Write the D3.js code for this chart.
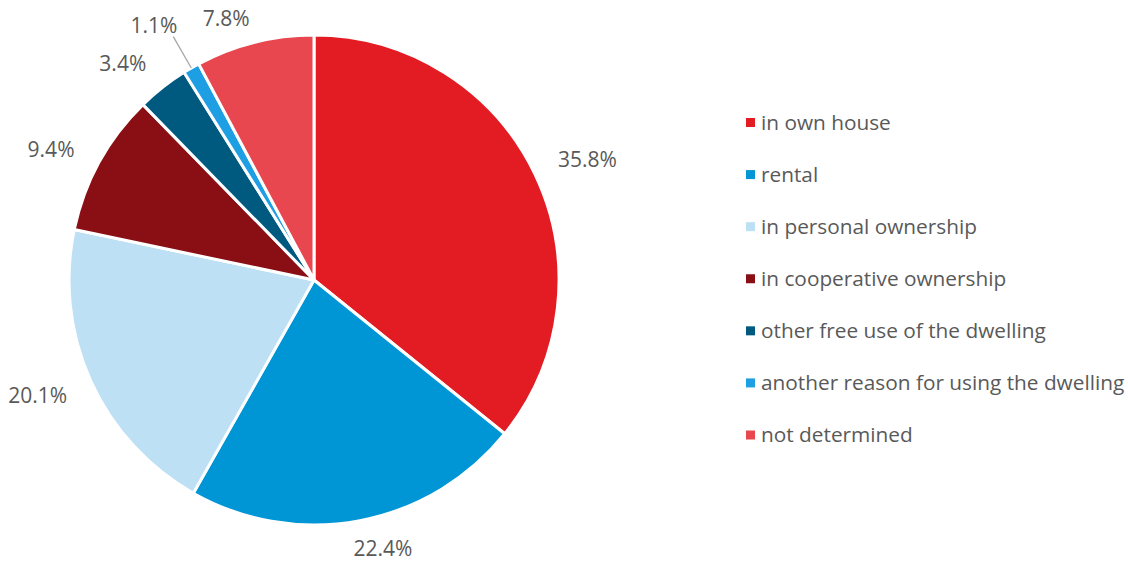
<!DOCTYPE html>
<html>
<head>
<meta charset="utf-8">
<script src="https://cdn.jsdelivr.net/npm/d3@7"></script>
<style>
  html, body { margin: 0; padding: 0; background: #fff; }
  svg { display: block; }
  text { font-family: "Open Sans", "Noto Sans", sans-serif; fill: #595959; }
</style>
</head>
<body>
<svg id="chart" width="1128" height="562"></svg>
<script>
// Dwelling use categories and their shares (%)
const categories = [
  "in own house",
  "rental",
  "in personal ownership",
  "in cooperative ownership",
  "other free use of the dwelling",
  "another reason for using the dwelling",
  "not determined"
];
const shares = [35.8, 22.4, 20.1, 9.4, 3.4, 1.1, 7.8];
const colors = ["#E31B23", "#0096D6", "#BDE0F5", "#8A0F15", "#005A80", "#1E9FE3", "#E84750"];

// Label layout tweaks (degrees of rotation, extra radial gap in px) per slice
const labelAngleShift = [0.3, -2.7, 0.3, -1.3, -2, -1, -3.7];
const labelExtraGap = [0, -7, 0, 0, 0, 14, -8];

const svg = d3.select("#chart");
const cx = 314, cy = 280, radius = 245;

const pie = d3.pie().sort(null).value(d => d.value);
const arc = d3.arc().innerRadius(0).outerRadius(radius);

const data = categories.map((c, i) => ({ name: c, value: shares[i], color: colors[i], i }));
const arcs = pie(data);

const g = svg.append("g").attr("transform", `translate(${cx},${cy})`);

g.selectAll("path.slice")
  .data(arcs)
  .join("path")
  .attr("class", "slice")
  .attr("d", arc)
  .attr("fill", d => d.data.color)
  .attr("stroke", "#fff")
  .attr("stroke-width", 3)
  .attr("stroke-linejoin", "round");

// Outside-end labels: the label box sits just beyond the rim along the slice's mid-angle
const gap = 28;
const labelSize = 21;
arcs.forEach(d => {
  const i = d.data.i;
  const mid = (d.startAngle + d.endAngle) / 2;
  const a = mid + labelAngleShift[i] * Math.PI / 180;
  const rr = radius + gap + labelExtraGap[i];
  const px = rr * Math.sin(a), py = -rr * Math.cos(a);
  const t = g.append("text")
    .attr("font-size", labelSize)
    .attr("text-anchor", "middle")
    .text(d3.format(".1f")(d.data.value) + "%");
  const w = t.node().getComputedTextLength();
  const h = 20;
  const bx = px + (w / 2) * Math.sin(a);
  const by = py - (h / 2) * Math.cos(a);
  t.attr("x", bx).attr("y", by + 7.5);

  if (labelExtraGap[i] > 0) {
    // leader line from the label to the slice rim
    const ex = radius * Math.sin(mid), ey = -radius * Math.cos(mid);
    g.append("line")
      .attr("x1", bx + w / 2 - 4).attr("y1", by + 11)
      .attr("x2", ex).attr("y2", ey)
      .attr("stroke", "#A6A6A6")
      .attr("stroke-width", 1.3);
  }
});

// Legend
const legendY = d3.scalePoint().domain(categories).range([122.5, 435]);
const legend = svg.append("g");
const items = legend.selectAll("g.item")
  .data(data)
  .join("g")
  .attr("class", "item")
  .attr("transform", d => `translate(746,${legendY(d.name)})`);
items.append("rect")
  .attr("x", 0).attr("y", -4.5)
  .attr("width", 9).attr("height", 9)
  .attr("fill", d => d.color);
items.append("text")
  .attr("x", 15).attr("y", 7)
  .attr("font-size", 20.8)
  .text(d => d.name);
</script>
</body>
</html>
